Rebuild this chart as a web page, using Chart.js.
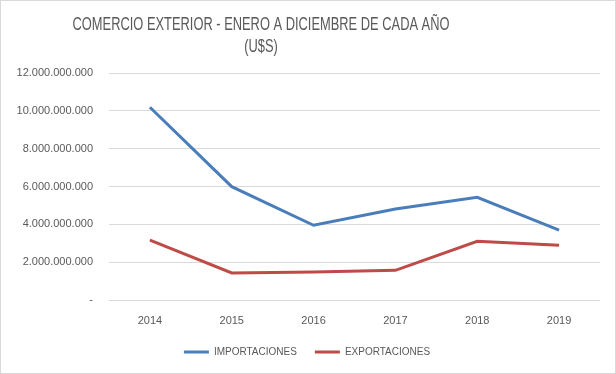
<!DOCTYPE html>
<html><head><meta charset="utf-8">
<script src="https://cdn.jsdelivr.net/npm/chart.js@4.4.1/dist/chart.umd.min.js"></script>
<style>html,body{margin:0;padding:0;background:#fff}#wrap{width:616px;height:374px;position:relative}</style>
</head><body><div id="wrap"><canvas id="c" width="616" height="374"></canvas></div>
<script>
const titleLines = ['COMERCIO EXTERIOR - ENERO A DICIEMBRE DE CADA AÑO', '(U$S)'];
const years = ['2014', '2015', '2016', '2017', '2018', '2019'];
const importaciones = [10190000000, 5990000000, 3950000000, 4810000000, 5430000000, 3690000000];
const exportaciones = [3160000000, 1430000000, 1480000000, 1570000000, 3100000000, 2890000000];
const yTicks = [0, 2000000000, 4000000000, 6000000000, 8000000000, 10000000000, 12000000000];

function fmt(v){ if(v===0) return '-'; return String(Math.round(v)).replace(/\B(?=(\d{3})+(?!\d))/g,'.'); }

const frame = {
  id:'frame',
  afterDraw(chart){
    const ctx = chart.ctx;
    ctx.save();
    ctx.strokeStyle='#d9d9d9'; ctx.lineWidth=1;
    ctx.strokeRect(0.5,0.5,chart.width-1,chart.height-1);
    ctx.fillStyle='#595959';
    ctx.font='18px "Liberation Sans", Arial, sans-serif';
    ctx.textAlign='center'; ctx.textBaseline='middle';
    const w = ctx.measureText(titleLines[0]).width;
    const sx = 377 / w;
    ctx.translate(261, 0);
    ctx.scale(sx, 1);
    ctx.fillText(titleLines[0], 0, 25);
    ctx.fillText(titleLines[1], 0, 47);
    ctx.restore();
  }
};

new Chart(document.getElementById('c'), {
  type:'line',
  data:{ labels: years, datasets:[
    {label:'IMPORTACIONES', data: importaciones, borderColor:'#4a7ebb', backgroundColor:'#4a7ebb', borderWidth:3, pointRadius:0, tension:0},
    {label:'EXPORTACIONES', data: exportaciones, borderColor:'#be4b48', backgroundColor:'#be4b48', borderWidth:3, pointRadius:0, tension:0}
  ]},
  options:{
    responsive:false, animation:false, devicePixelRatio:1,
    layout:{padding:{top:73, right:16, bottom:7, left:14}},
    plugins:{
      title:{display:false},
      tooltip:{enabled:false},
      legend:{position:'bottom', labels:{usePointStyle:true, pointStyle:'line', pointStyleWidth:25, boxHeight:3, color:'#595959', font:{family:'"Liberation Sans", Arial, sans-serif', size:10}, padding:18}}
    },
    scales:{
      x:{ offset:true, grid:{display:false, drawTicks:false}, border:{display:false},
          ticks:{color:'#595959', font:{family:'"Liberation Sans", Arial, sans-serif', size:11}, padding:14, maxRotation:0},
          afterFit(s){ s.height = 29; } },
      y:{ min:0, max:12000000000, afterBuildTicks(s){ s.ticks = yTicks.map(v=>({value:v})); },
          grid:{color:'#d9d9d9', lineWidth:1, drawTicks:false}, border:{display:false},
          ticks:{color:'#595959', font:{family:'"Liberation Sans", Arial, sans-serif', size:11}, padding:16, callback:(v)=>fmt(v)},
          afterFit(s){ s.width = 95; } }
    }
  },
  plugins:[frame]
});
</script></body></html>
